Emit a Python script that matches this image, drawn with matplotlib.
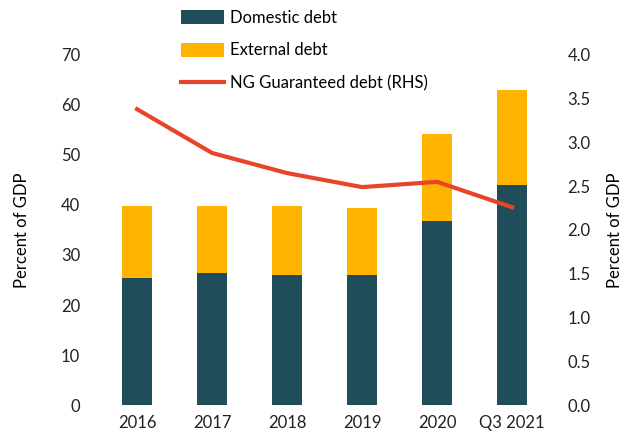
import matplotlib
matplotlib.use("Agg")
import matplotlib.pyplot as plt
import numpy as np

years = ["2016", "2017", "2018", "2019", "2020", "Q3 2021"]
domestic = [25.4, 26.4, 26.0, 26.0, 36.8, 44.0]
external = [14.4, 13.4, 13.8, 13.4, 17.4, 19.0]
guaranteed = [3.38, 2.88, 2.65, 2.49, 2.55, 2.26]

plt.rcParams["font.family"] = ["Lato", "DejaVu Sans"]

fig = plt.figure(figsize=(6.26, 4.36), dpi=100)
ax = fig.add_axes([0.159, 0.071, 0.719, 0.803])
ax2 = ax.twinx()

x = np.arange(len(years))
b1 = ax.bar(x, domestic, width=0.4, color="#1F4E5A", label="Domestic debt", zorder=2)
b2 = ax.bar(x, external, width=0.4, bottom=domestic, color="#FFB400",
            label="External debt", zorder=2)
(l1,) = ax2.plot(x, guaranteed, color="#E8442A", lw=3,
                 label="NG Guaranteed debt (RHS)")

ax.set_xlim(-0.5, 5.5)
ax.set_ylim(0, 70)
ax.set_yticks(range(0, 71, 10))
ax2.set_ylim(0, 4.0)
ax2.set_yticks(np.arange(0, 4.01, 0.5))
ax2.set_yticklabels([f"{v:.1f}" for v in np.arange(0, 4.01, 0.5)])
ax.set_xticks(x)
ax.set_xticklabels(years)

for a in (ax, ax2):
    for s in a.spines.values():
        s.set_visible(False)
    a.tick_params(length=0, labelsize=12, colors="#222222")
ax.tick_params(axis="y", pad=14)
ax.tick_params(axis="x", pad=7)
ax2.tick_params(axis="y", pad=13)

ax.set_ylabel("Percent of GDP", fontsize=12, labelpad=22)
ax2.set_ylabel("Percent of GDP", fontsize=12, labelpad=12)

fig.legend([b1, b2, l1], ["Domestic debt", "External debt", "NG Guaranteed debt (RHS)"],
           loc="upper left", bbox_to_anchor=(0.265, 1.012), frameon=False,
           fontsize=12, handlelength=2.6, handleheight=0.9, labelspacing=1.0,
           handletextpad=0.35)

fig.savefig("out.png", dpi=100)
